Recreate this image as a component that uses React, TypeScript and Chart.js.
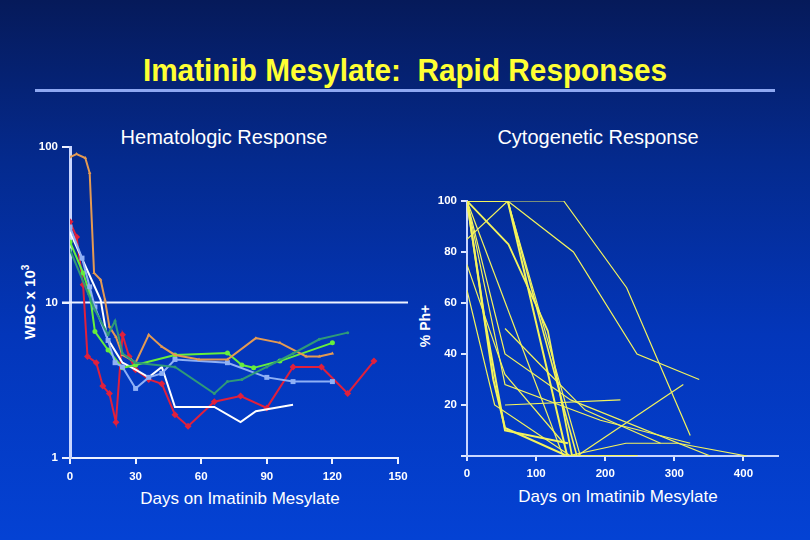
import React, { useEffect, useRef } from "react";
import { Chart, registerables } from "chart.js";
Chart.register(...registerables);

// ---------- Hematologic response (WBC x 10^3, log scale) ----------
const hemXTicks = [0, 30, 60, 90, 120, 150];
const hemYTicks = [1, 10, 100];

const orangeDays = [0, 3, 7, 9, 11, 14, 16, 18, 21, 24, 28, 30, 36, 42, 48, 59, 72, 85, 96, 108, 114, 120];
const orangeWbc = [86, 90, 85, 68, 15.5, 14, 10.4, 7, 6, 4.6, 4.3, 4.1, 6.2, 5.2, 4.6, 4.3, 4.3, 5.9, 5.5, 4.5, 4.5, 4.7];

const redDays = [0, 3, 6, 8, 12, 15, 18, 21, 24, 27, 30, 36, 42, 48, 54, 66, 78, 90, 102, 115, 127, 139];
const redWbc = [33, 26.4, 13, 4.5, 4.1, 2.9, 2.6, 1.7, 6.2, 4.5, 3.7, 3.2, 3.0, 1.9, 1.6, 2.3, 2.5, 2.1, 3.85, 3.85, 2.6, 4.2];

const whiteDays = [0, 14, 17, 24, 30, 36, 42, 48, 66, 78, 85, 102];
const whiteWbc = [28.4, 10.4, 5.9, 4.1, 3.7, 3.3, 3.85, 2.13, 2.13, 1.7, 2.0, 2.2];

const blueDays = [0, 5.5, 9, 11.4, 17.4, 20.6, 24, 30, 36, 42, 48, 72, 90, 102, 120];
const blueWbc = [30.6, 19.3, 12.6, 9.35, 5.7, 4.1, 3.85, 2.8, 3.3, 3.5, 4.3, 4.1, 3.3, 3.1, 3.1];

const greenDays = [0, 6, 9, 11.4, 17.4, 24, 30, 48, 72, 78.6, 84, 96, 120];
const greenWbc = [24.5, 15.5, 11.5, 6.5, 4.95, 3.8, 3.96, 4.6, 4.73, 3.96, 3.8, 4.2, 5.5];

const tealDays = [0, 11.4, 17.4, 20.6, 24, 30, 48, 66, 72, 78.6, 90, 102, 114, 127];
const tealWbc = [21.8, 8.95, 6.2, 7.6, 4.7, 4.1, 3.85, 2.6, 3.1, 3.2, 3.85, 4.7, 5.8, 6.4];

// ---------- Cytogenetic response (% Ph+) ----------
const cytoXTicks = [0, 100, 200, 300, 400];
const cytoYTicks = [0, 20, 40, 60, 80, 100];

const cyto1Days = [0, 140, 231, 323];
const cyto1Ph = [100, 100, 66, 8];
const cyto2Days = [0, 59, 154, 246, 336];
const cyto2Ph = [85, 100, 80, 40, 30];
const cyto3Days = [0, 19, 38, 55, 145];
const cyto3Ph = [100, 65, 30, 11, 0];
const cyto4Days = [0, 26, 55, 146];
const cyto4Ph = [100, 53, 10, 5];
const cyto5Days = [0, 55, 150, 352];
const cyto5Ph = [100, 40, 22, 0];
const cyto6Days = [0, 55, 193, 323];
const cyto6Ph = [100, 28, 14, 5];
const cyto7Days = [0, 59, 145, 247];
const cyto7Ph = [100, 100, 0, 0];
const cyto8Days = [59, 159];
const cyto8Ph = [100, 0];
const cyto9Days = [59, 113, 164];
const cyto9Ph = [100, 49, 0];
const cyto10Days = [55, 109, 171, 280];
const cyto10Ph = [50, 35, 18, 5];
const cyto11Days = [55, 222];
const cyto11Ph = [20, 22];
const cyto12Days = [159, 313];
const cyto12Ph = [0, 28];
const cyto13Days = [0, 139];
const cyto13Ph = [100, 0];
const cyto14Days = [0, 55, 140];
const cyto14Ph = [75, 32, 5];
const cyto15Days = [0, 40, 150];
const cyto15Ph = [65, 20, 0];
const cyto16Days = [0, 60, 117, 152];
const cyto16Ph = [100, 83, 49, 0];
const cyto17Days = [145, 230, 305, 405];
const cyto17Ph = [0, 5, 5, 0];

const FONT = '"Liberation Sans", Arial, sans-serif';

const zip = (xs: number[], ys: number[]) => xs.map((x, i) => ({ x, y: ys[i] }));

const tenLine = {
  id: "tenLine",
  beforeDatasetsDraw(chart: any) {
    const y = chart.scales.y.getPixelForValue(10);
    const { left, right } = chart.chartArea;
    const ctx = chart.ctx;
    ctx.save();
    ctx.strokeStyle = "#eef2ff";
    ctx.lineWidth = 2;
    ctx.beginPath();
    ctx.moveTo(left - 8, y);
    ctx.lineTo(right + 10, y);
    ctx.stroke();
    ctx.restore();
  },
};

export default function App() {
  const leftRef = useRef<HTMLCanvasElement>(null);
  const rightRef = useRef<HTMLCanvasElement>(null);

  useEffect(() => {
    const tickFont = { family: FONT, size: 11.5, weight: "bold" as const };
    const hemSeries = [
      { days: tealDays, v: tealWbc, color: "#2f9a78", style: "circle", r: 1.5, w: 2 },
      { days: orangeDays, v: orangeWbc, color: "#e49a52", style: "triangle", r: 2, w: 2 },
      { days: blueDays, v: blueWbc, color: "#8fb0f5", style: "rect", r: 3.5, w: 2 },
      { days: greenDays, v: greenWbc, color: "#66ee3c", style: "circle", r: 2.5, w: 2 },
      { days: whiteDays, v: whiteWbc, color: "#ffffff", style: "circle", r: 0, w: 2 },
      { days: redDays, v: redWbc, color: "#e0203c", style: "rectRot", r: 3.5, w: 2 },
    ];
    const left = new Chart(leftRef.current!, {
      type: "line",
      data: {
        datasets: hemSeries.map((s) => ({
          data: zip(s.days, s.v),
          borderColor: s.color,
          backgroundColor: s.color,
          borderWidth: s.w,
          pointStyle: s.style as any,
          pointRadius: s.r,
          pointBorderWidth: 0,
          tension: 0,
        })),
      },
      options: {
        animation: false,
        responsive: false,
        devicePixelRatio: 1,
        layout: { padding: { left: 30, top: 147, right: 412, bottom: 52 } },
        plugins: { legend: { display: false }, tooltip: { enabled: false } },
        scales: {
          x: {
            type: "linear",
            min: 0,
            max: 150,
            afterBuildTicks: (s: any) => {
              s.ticks = hemXTicks.map((value) => ({ value }));
            },
            afterFit: (s: any) => {
              s.height = 30;
            },
            ticks: { color: "#ffffff", font: tickFont, padding: 6, maxRotation: 0 },
            grid: { drawOnChartArea: false, color: "#eef2ff", tickLength: 6, lineWidth: 2 },
            border: { display: true, color: "#eef2ff", width: 2 },
          },
          y: {
            type: "logarithmic",
            min: 1,
            max: 100,
            afterBuildTicks: (s: any) => {
              s.ticks = hemYTicks.map((value) => ({ value }));
            },
            afterFit: (s: any) => {
              s.width = 40;
            },
            ticks: { color: "#ffffff", font: tickFont, padding: 4, callback: (v: any) => String(v) },
            grid: { drawOnChartArea: false, color: "#eef2ff", tickLength: 8, lineWidth: 2 },
            border: { display: true, color: "#c9d6ff", width: 3 },
          },
        },
      },
      plugins: [tenLine],
    });

    const cytoSeries = [
      { d: cyto1Days, p: cyto1Ph, w: 1.2 },
      { d: cyto2Days, p: cyto2Ph, w: 1.2 },
      { d: cyto3Days, p: cyto3Ph, w: 2 },
      { d: cyto4Days, p: cyto4Ph, w: 2 },
      { d: cyto5Days, p: cyto5Ph, w: 1.2 },
      { d: cyto6Days, p: cyto6Ph, w: 1.2 },
      { d: cyto7Days, p: cyto7Ph, w: 2 },
      { d: cyto8Days, p: cyto8Ph, w: 1.6 },
      { d: cyto9Days, p: cyto9Ph, w: 1.2 },
      { d: cyto10Days, p: cyto10Ph, w: 1.2 },
      { d: cyto11Days, p: cyto11Ph, w: 1.2 },
      { d: cyto12Days, p: cyto12Ph, w: 1.2 },
      { d: cyto13Days, p: cyto13Ph, w: 1.2 },
      { d: cyto14Days, p: cyto14Ph, w: 1.2 },
      { d: cyto15Days, p: cyto15Ph, w: 1.2 },
      { d: cyto16Days, p: cyto16Ph, w: 1.8 },
      { d: cyto17Days, p: cyto17Ph, w: 1.2 },
    ];
    const right = new Chart(rightRef.current!, {
      type: "line",
      data: {
        datasets: cytoSeries.map((s) => ({
          data: zip(s.d, s.p),
          borderColor: "#f4f45c",
          borderWidth: s.w,
          pointRadius: 0,
          tension: 0,
        })),
      },
      options: {
        animation: false,
        responsive: false,
        devicePixelRatio: 1,
        layout: { padding: { left: 427, top: 201, right: 32, bottom: 54 } },
        plugins: { legend: { display: false }, tooltip: { enabled: false } },
        scales: {
          x: {
            type: "linear",
            min: 0,
            max: 450,
            afterBuildTicks: (s: any) => {
              s.ticks = cytoXTicks.map((value) => ({ value }));
            },
            afterFit: (s: any) => {
              s.height = 30;
            },
            ticks: { color: "#ffffff", font: tickFont, padding: 6, maxRotation: 0 },
            grid: { drawOnChartArea: false, color: "#dfe7ff", tickLength: 5, lineWidth: 2 },
            border: { display: true, color: "#c9d6ff", width: 2 },
          },
          y: {
            type: "linear",
            min: 0,
            max: 100,
            afterBuildTicks: (s: any) => {
              s.ticks = cytoYTicks.map((value) => ({ value }));
            },
            afterFit: (s: any) => {
              s.width = 40;
            },
            ticks: {
              color: "#ffffff",
              font: tickFont,
              padding: 4,
              callback: (v: any) => (v === 0 ? "" : String(v)),
            },
            grid: { drawOnChartArea: false, color: "#dfe7ff", tickLength: 6, lineWidth: 2 },
            border: { display: true, color: "#c9d6ff", width: 2 },
          },
        },
      },
    });

    return () => {
      left.destroy();
      right.destroy();
    };
  }, []);

  const abs = (x: number, y: number, extra: React.CSSProperties = {}): React.CSSProperties => ({
    position: "absolute",
    left: x,
    top: y,
    transform: "translate(-50%, -50%)",
    whiteSpace: "nowrap",
    fontFamily: FONT,
    color: "#ffffff",
    lineHeight: 1,
    ...extra,
  });

  return (
    <div
      style={{
        position: "absolute",
        left: 0,
        top: 0,
        width: 810,
        height: 540,
        overflow: "hidden",
        background: "linear-gradient(to bottom, #061a5a 0%, #042a8e 30%, #0336ba 62%, #0442d4 100%)",
      }}
    >
      <div
        style={abs(405, 70, {
          color: "#ffff33",
          fontWeight: "bold",
          fontSize: 31,
          transform: "translate(-50%, -50%) scaleX(0.96)",
        })}
      >
        Imatinib Mesylate:&nbsp; Rapid Responses
      </div>
      <div
        style={{
          position: "absolute",
          left: 35,
          top: 89,
          width: 740,
          height: 3,
          background: "#8ea8f2",
        }}
      />
      <div style={abs(224, 137, { fontSize: 20 })}>Hematologic Response</div>
      <div style={abs(598, 137, { fontSize: 20 })}>Cytogenetic Response</div>
      <div style={abs(240, 498, { fontSize: 17 })}>Days on Imatinib Mesylate</div>
      <div style={abs(618, 496, { fontSize: 17 })}>Days on Imatinib Mesylate</div>
      <div style={abs(29, 302, { fontSize: 15, fontWeight: "bold", transform: "translate(-50%, -50%) rotate(-90deg)" })}>
        WBC x 10<sup style={{ fontSize: 10 }}>3</sup>
      </div>
      <div style={abs(425, 326, { fontSize: 14, fontWeight: "bold", transform: "translate(-50%, -50%) rotate(-90deg)" })}>
        % Ph+
      </div>
      <canvas ref={leftRef} width={810} height={540} style={{ position: "absolute", left: 0, top: 0 }} />
      <canvas ref={rightRef} width={810} height={540} style={{ position: "absolute", left: 0, top: 0 }} />
    </div>
  );
}
